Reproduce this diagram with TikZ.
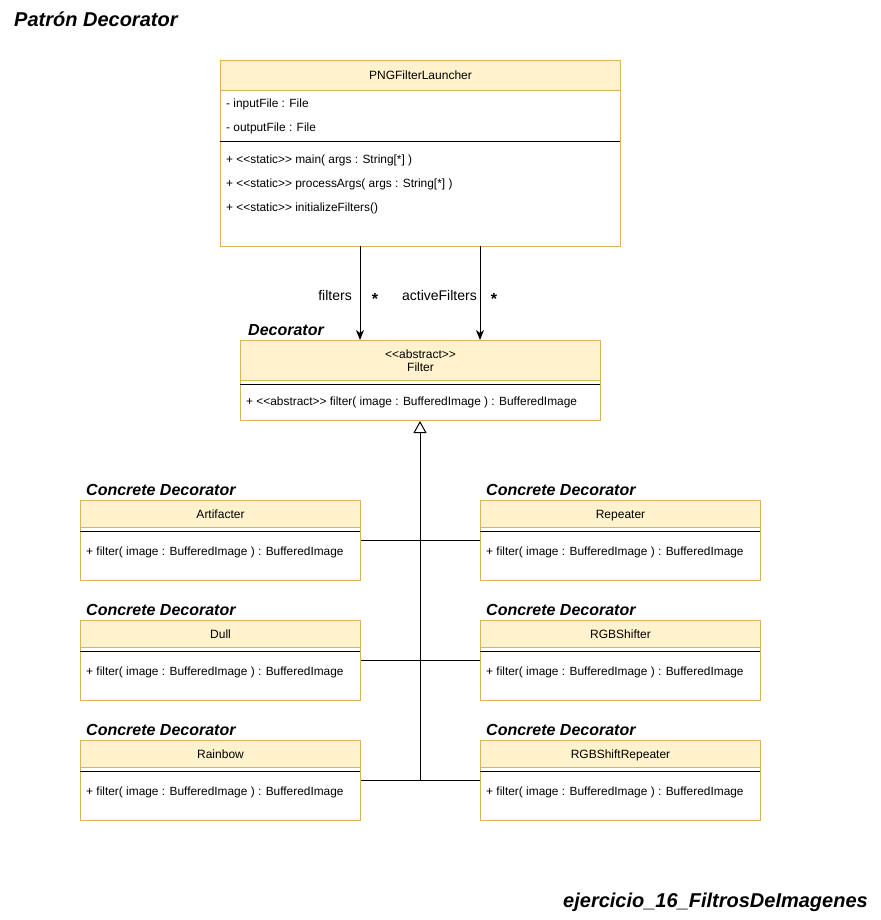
\documentclass[tikz,border=0pt]{standalone}
\usepackage{fontspec}
\setmainfont{Liberation Sans}
\usetikzlibrary{arrows.meta,calc}
\definecolor{umlfill}{HTML}{FFF2CC}
\definecolor{umlstroke}{HTML}{D6B656}

\tikzset{
  classbox/.style={draw=umlstroke, fill=white, line width=1pt, inner sep=0pt, anchor=north west},
  classhead/.style={draw=umlstroke, fill=umlfill, line width=1pt, inner sep=0pt, anchor=north west},
  classname/.style={inner sep=0pt, font=\fontsize{12}{14}\selectfont, align=center},
  singlename/.style={classname, text height=8.6pt, text depth=0pt},
  member/.style={anchor=west, inner sep=0pt, text height=8.6pt, text depth=0pt, font=\fontsize{11.9}{14}\selectfont},
  divider/.style={black, line width=1pt},
  tag/.style={anchor=west, inner sep=0pt, text height=11.5pt, text depth=0pt, font=\fontsize{16}{18}\selectfont\bfseries\itshape},
  bigtag/.style={inner sep=0pt, text height=14pt, text depth=0pt, font=\fontsize{20}{22}\selectfont\bfseries\itshape},
  assoc/.style={-{Stealth[length=10pt,width=8pt,inset=3pt]}, line width=1pt, black},
  inherit/.style={-{Triangle[open,length=12pt,width=13pt,fill=white]}, line width=1pt, black},
  wire/.style={line width=1pt, black},
  edgelabel/.style={inner sep=0pt, text height=10pt, text depth=0pt, font=\fontsize{14}{16}\selectfont},
  multiplicity/.style={inner sep=0pt, font=\fontsize{16}{18}\selectfont\bfseries},
}

% concrete decorator class: #1 node name, #2 x, #3 y, #4 class name
\newcommand{\concreteclass}[4]{%
  \node[classbox, minimum width=280pt, minimum height=80pt] (#1) at (#2,#3) {};
  \node[classhead, minimum width=280pt, minimum height=27pt] (#1h) at (#2,#3) {};
  \node[singlename] at (#1h.center) {#4};
  \draw[divider] (#2,#3+31) -- (#2+280,#3+31);
  \node[member] at (#2+6,#3+51) {+ filter( image : BufferedImage ) : BufferedImage};
  \node[tag] at (#2+6,#3-10) {Concrete Decorator};
}

\begin{document}
\begin{tikzpicture}[x=1pt,y=-1pt]
\useasboundingbox (0,0) rectangle (880,920);

% titles
\node[bigtag, anchor=west] (title) at (14,20) {Patrón Decorator};
\node[bigtag, anchor=east] (footer) at (868,900) {ejercicio\_16\_FiltrosDeImagenes};

% PNGFilterLauncher
\node[classbox, minimum width=400pt, minimum height=186pt] (launch) at (220,60) {};
\node[classhead, minimum width=400pt, minimum height=30pt] (launchh) at (220,60) {};
\node[singlename] at (launchh.center) {PNGFilterLauncher};
\node[member] at (226,103) {- inputFile : File};
\node[member] at (226,127) {- outputFile : File};
\draw[divider] (220,142) -- (620,142);
\node[member] at (226,159) {+ <{}<static>{}> main( args : String[*] )};
\node[member] at (226,183) {+ <{}<static>{}> processArgs( args : String[*] )};
\node[member] at (226,207) {+ <{}<static>{}> initializeFilters()};

% abstract Filter
\node[tag] at (248,330) {Decorator};
\node[classbox, minimum width=360pt, minimum height=80pt] (filter) at (240,340) {};
\node[classhead, minimum width=360pt, minimum height=40pt] (filterh) at (240,340) {};
\node[classname] at (filterh.center) {<{}<abstract>{}>\\[-1pt]Filter};
\draw[divider] (240,384) -- (600,384);
\node[member] at (246,401) {+ <{}<abstract>{}> filter( image : BufferedImage ) : BufferedImage};

% concrete decorators
\concreteclass{artif}{80}{500}{Artifacter}
\concreteclass{repeat}{480}{500}{Repeater}
\concreteclass{dull}{80}{620}{Dull}
\concreteclass{shift}{480}{620}{RGBShifter}
\concreteclass{rainbow}{80}{740}{Rainbow}
\concreteclass{shiftrep}{480}{740}{RGBShiftRepeater}

% associations
\coordinate (a1) at (360,246);
\coordinate (a2) at (480,246);
\draw[assoc] (a1) -- (a1 |- filter.north);
\draw[assoc] (a2) -- (a2 |- filter.north);
\node[edgelabel, anchor=east] at (352,295) {filters};
\node[multiplicity] at (375,299) {*};
\node[edgelabel, anchor=east] at (477,295) {activeFilters};
\node[multiplicity] at (494,299) {*};

% generalization tree
\coordinate (hub) at (420,780);
\draw[inherit] (hub) -- (hub |- filter.south);
\draw[wire] (artif.east |- 0,540) -- (repeat.west |- 0,540);
\draw[wire] (dull.east |- 0,660) -- (shift.west |- 0,660);
\draw[wire] (rainbow.east |- 0,780) -- (shiftrep.west |- 0,780);
\end{tikzpicture}
\end{document}
